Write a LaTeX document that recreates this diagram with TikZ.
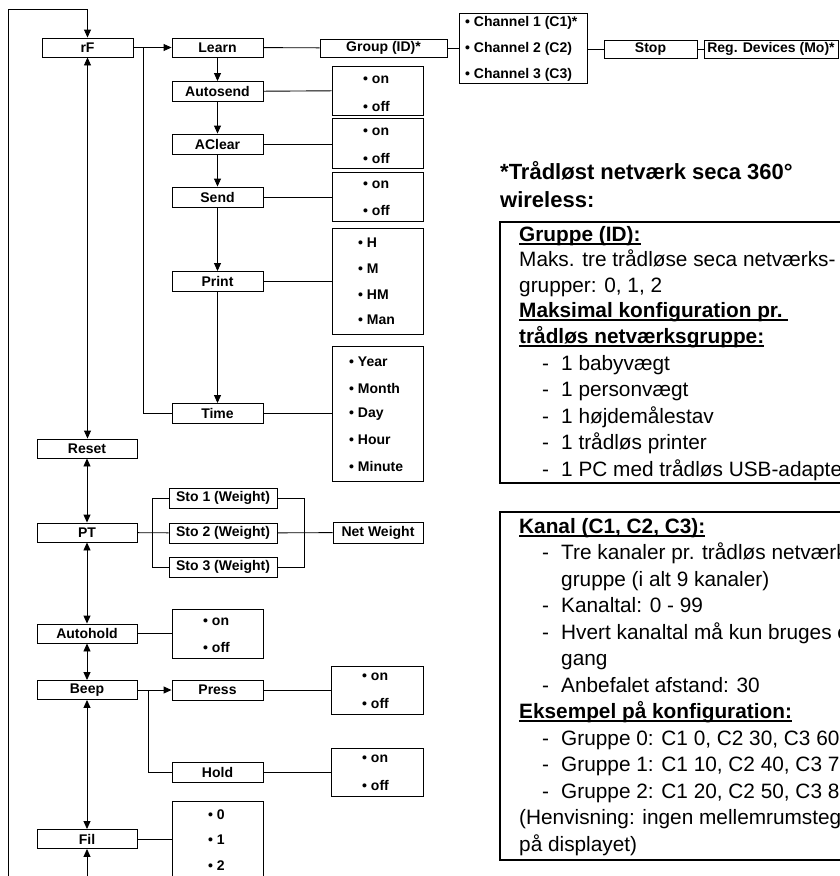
\documentclass[tikz,border=0pt]{standalone}
\usepackage{fontspec}
\setmainfont{Liberation Sans}
\usetikzlibrary{arrows.meta}
\newcommand\myul[1]{\setbox0=\hbox{#1}\rlap{\raisebox{-3.6pt}{\rule{\wd0}{1.7pt}}}\box0}
\begin{document}
\begin{tikzpicture}[x=1pt,y=-1pt,
  box/.style={draw, line width=0.9pt, inner sep=0pt, font=\fontsize{14}{16}\selectfont\bfseries},
  optbox/.style={draw, line width=0.9pt, inner sep=0pt},
  item/.style={anchor=west, inner sep=0pt, font=\fontsize{14}{16}\selectfont\bfseries},
  link/.style={line width=0.9pt},
  arr/.style={line width=0.9pt, -{Triangle[length=8pt,width=7pt]}},
  darr/.style={line width=0.9pt, {Triangle[length=8pt,width=7pt]}-{Triangle[length=8pt,width=7pt]}},
  note/.style={anchor=base west, inner sep=0pt, font=\fontsize{20.8}{24}\selectfont},
  noteb/.style={anchor=base west, inner sep=0pt, font=\fontsize{20.8}{24}\selectfont\bfseries},
  title/.style={anchor=base west, inner sep=0pt, font=\fontsize{22}{26}\selectfont\bfseries},
  panel/.style={draw, line width=2pt}
]
\useasboundingbox (0,0) rectangle (840,876);
\clip (0,0) rectangle (840,876);

% main column
\node[box, minimum width=91, minimum height=19] (rF) at (87.5,47.5) {rF};
\node[box, minimum width=100, minimum height=19] (Reset) at (87,448.5) {Reset};
\node[box, minimum width=100, minimum height=19] (PT) at (87,532.5) {PT};
\node[box, minimum width=100, minimum height=19] (Autohold) at (87,633.5) {Autohold};
\node[box, minimum width=100, minimum height=19] (Beep) at (87,690) {Beep};
\node[box, minimum width=100, minimum height=19] (Fil) at (87,839) {Fil};

% rF submenu
\node[box, minimum width=91, minimum height=19] (Learn) at (217.5,47.5) {Learn};
\node[box, minimum width=91, minimum height=20] (Autosend) at (217.5,91.5) {Autosend};
\node[box, minimum width=91, minimum height=20] (AClear) at (217.5,144) {AClear};
\node[box, minimum width=91, minimum height=20] (Send) at (217.5,197) {Send};
\node[box, minimum width=91, minimum height=20] (Print) at (217.5,281.5) {Print};
\node[box, minimum width=91, minimum height=20] (Time) at (217.5,413.5) {Time};

\node[box, minimum width=127, minimum height=18] (Group) at (383.5,48) {Group (ID)*};
\node[optbox, minimum width=128, minimum height=70] (Chan) at (523,48) {};
\node[item] (c1) at (465,23) {• Channel 1 (C1)*};
\node[item] (c2) at (465,49) {• Channel 2 (C2)};
\node[item] (c3) at (465,75) {• Channel 3 (C3)};
\node[box, minimum width=93, minimum height=18] (Stop) at (650.5,49) {Stop};
\node[box, minimum width=134, minimum height=18] (Reg) at (771,49) {Reg. Devices (Mo)*};

% option boxes
\node[optbox, minimum width=91, minimum height=49] (oAuto) at (377.5,90.5) {};
\node[item] at (363,80) {• on};
\node[item] at (363,106) {• off};
\node[optbox, minimum width=91, minimum height=50] (oAClear) at (377.5,143) {};
\node[item] at (363,132) {• on};
\node[item] at (363,158) {• off};
\node[optbox, minimum width=91, minimum height=49] (oSend) at (377.5,196.5) {};
\node[item] at (363,185) {• on};
\node[item] at (363,210) {• off};
\node[optbox, minimum width=91, minimum height=106] (oPrint) at (377.5,281) {};
\node[item] at (358,243) {• H};
\node[item] at (358,269) {• M};
\node[item] at (358,295) {• HM};
\node[item] at (358,320) {• Man};
\node[optbox, minimum width=91, minimum height=135] (oTime) at (377.5,413.5) {};
\node[item] at (349,362) {• Year};
\node[item] at (349,388) {• Month};
\node[item] at (349,414) {• Day};
\node[item] at (349,440) {• Hour};
\node[item] at (349,466) {• Minute};

% PT submenu
\node[box, minimum width=108, minimum height=20] (Sto1) at (223,498) {Sto 1 (Weight)};
\node[box, minimum width=108, minimum height=20] (Sto2) at (223,533) {Sto 2 (Weight)};
\node[box, minimum width=108, minimum height=20] (Sto3) at (223,567) {Sto 3 (Weight)};
\node[box, minimum width=90, minimum height=21] (Net) at (378,532.5) {Net Weight};

% Autohold
\node[optbox, minimum width=91, minimum height=49] (oAutohold) at (217.5,633.5) {};
\node[item] at (203,622) {• on};
\node[item] at (203,647) {• off};

% Beep
\node[box, minimum width=91, minimum height=20] (Press) at (217.5,690) {Press};
\node[box, minimum width=91, minimum height=20] (Hold) at (217.5,772) {Hold};
\node[optbox, minimum width=92, minimum height=48] (oPress) at (377,690) {};
\node[item] at (362,677) {• on};
\node[item] at (362,703) {• off};
\node[optbox, minimum width=92, minimum height=48] (oHold) at (377,772) {};
\node[item] at (362,759) {• on};
\node[item] at (362,785) {• off};

% Fil
\node[optbox, minimum width=91, minimum height=90] (oFil) at (217.5,846) {};
\node[item] at (208,815) {• 0};
\node[item] at (208,840) {• 1};
\node[item] at (208,866) {• 2};

% connectors main column
\coordinate (loopbot) at (8,890);
\coordinate (filbot) at (87,890);
\draw[arr] (loopbot) |- (87.5,9) -- (rF.north);
\draw[arr] (filbot) -- (Fil.south);
\draw[darr] (rF.south) -- (rF.south |- Reset.north);
\draw[darr] (Reset) -- (PT);
\draw[darr] (PT) -- (Autohold);
\draw[darr] (Autohold) -- (Beep);
\draw[darr] (Beep) -- (Fil);

% rF submenu connectors
\draw[arr] (rF) -- (Learn);
\coordinate (rfbranch) at (143,47.5);
\draw[link] (rfbranch) |- (Time.west);
\draw[arr] (Learn) -- (Autosend);
\draw[arr] (Autosend) -- (AClear);
\draw[arr] (AClear) -- (Send);
\draw[arr] (Send) -- (Print);
\draw[arr] (Print) -- (Time);
\draw[link] (Learn) -- (Group);
\draw[link] (Group) -- (Group -| Chan.west);
\draw[link] (Stop -| Chan.east) -- (Stop);
\draw[link] (Stop) -- (Reg);
\draw[link] (Autosend) -- (oAuto);
\draw[link] (AClear) -- (AClear -| oAClear.west);
\draw[link] (Send) -- (Send -| oSend.west);
\draw[link] (Print) -- (Print -| oPrint.west);
\draw[link] (Time) -- (oTime);

% PT connectors
\draw[link] (PT) -- (Sto2);
\draw[link] (Sto1.west) -- ++(-16,0) |- (Sto3.west);
\draw[link] (Sto1.east) -- ++(27,0) |- (Sto3.east);
\draw[link] (Sto2) -- (Net);

\draw[link] (Autohold) -- (oAutohold);
\draw[arr] (Beep) -- (Press);
\coordinate (beepbranch) at (148,690);
\draw[link] (beepbranch) |- (Hold.west);
\draw[link] (Press) -- (oPress);
\draw[link] (Hold) -- (oHold);
\draw[link] (Fil) -- (Fil -| oFil.west);

% notes
\node[title] (t1) at (500,179) {*Trådløst netværk seca 360°};
\node[title] (t2) at (500,207) {wireless:};

\draw[panel] (500,222) rectangle (900,483);
\node[noteb] at (519,241.5) {\myul{Gruppe (ID):}};
\node[note] at (519,266.5) {Maks. tre trådløse seca netværks-};
\node[note] at (519,292) {grupper: 0, 1, 2};
\node[noteb] at (519,317.5) {\myul{Maksimal konfiguration pr.\ }};
\node[noteb] at (519,343.5) {\myul{trådløs netværksgruppe:}};
\node[note] at (542,370) {-};
\node[note] at (561,370) {1 babyvægt};
\node[note] at (542,396.5) {-};
\node[note] at (561,396.5) {1 personvægt};
\node[note] at (542,423) {-};
\node[note] at (561,423) {1 højdemålestav};
\node[note] at (542,449.5) {-};
\node[note] at (561,449.5) {1 trådløs printer};
\node[note] at (542,476) {-};
\node[note] at (561,476) {1 PC med trådløs USB-adapter};

\draw[panel] (500,512) rectangle (900,860);
\node[noteb] at (519,533) {\myul{Kanal (C1, C2, C3):}};
\node[note] at (542,559.5) {-};
\node[note] at (561,559.5) {Tre kanaler pr. trådløs netværks-};
\node[note] at (561,586) {gruppe (i alt 9 kanaler)};
\node[note] at (542,612.5) {-};
\node[note] at (561,612.5) {Kanaltal: 0 - 99};
\node[note] at (542,639) {-};
\node[note] at (561,639) {Hvert kanaltal må kun bruges én};
\node[note] at (561,665.5) {gang};
\node[note] at (542,692) {-};
\node[note] at (561,692) {Anbefalet afstand: 30};
\node[noteb] at (519,718.5) {\myul{Eksempel på konfiguration:}};
\node[note] at (542,745) {-};
\node[note] at (561,745) {Gruppe 0: C1 0, C2 30, C3 60};
\node[note] at (542,771.5) {-};
\node[note] at (561,771.5) {Gruppe 1: C1 10, C2 40, C3 70};
\node[note] at (542,798) {-};
\node[note] at (561,798) {Gruppe 2: C1 20, C2 50, C3 80};
\node[note] at (519,824.5) {(Henvisning: ingen mellemrumstegn};
\node[note] at (519,851) {på displayet)};
\end{tikzpicture}
\end{document}
